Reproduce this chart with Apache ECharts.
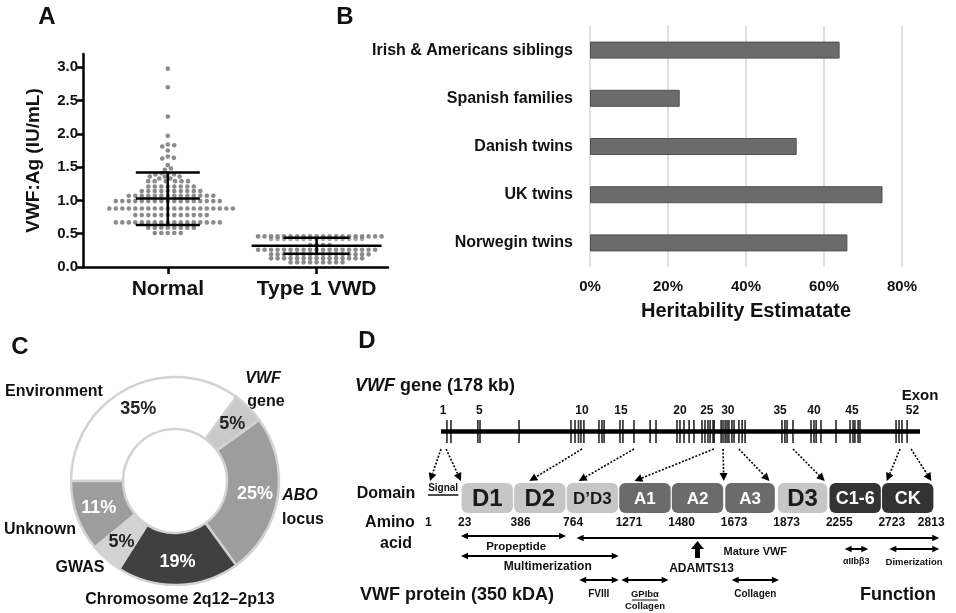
<!DOCTYPE html>
<html><head><meta charset="utf-8">
<script src="https://cdn.jsdelivr.net/npm/echarts@6/dist/echarts.min.js"></script>
<style>html,body{margin:0;padding:0;background:#fff}#c{width:956px;height:613px}</style>
</head><body><div id="c"></div>
<script>
// ---------------- Panel A data ----------------
const aCats = ['Normal', 'Type 1 VWD'];
const aTicks = [0, 0.5, 1, 1.5, 2, 2.5, 3];
const normalVals = [
  2.98, 2.70, 2.26, 1.97, 1.84, 1.83, 1.81, 1.75, 1.66, 1.64, 1.63, 1.53, 1.48, 1.46,
  1.41, 1.41, 1.39, 1.39, 1.36, 1.36, 1.36, 1.33, 1.33,
  1.29, 1.29, 1.29, 1.29, 1.29, 1.29,
  1.21, 1.21, 1.21, 1.21, 1.21, 1.21, 1.21, 1.21,
  1.14, 1.14, 1.14, 1.14, 1.14, 1.14, 1.14, 1.14, 1.14, 1.14,
  1.07, 1.07, 1.07, 1.07, 1.07, 1.07, 1.07, 1.07, 1.07, 1.07, 1.07, 1.07, 1.07, 1.07,
  0.99, 0.99, 0.99, 0.99, 0.99, 0.99, 0.99, 0.99, 0.99, 0.99, 0.99, 0.99, 0.99, 0.99, 0.99, 0.99, 0.99,
  0.88, 0.88, 0.88, 0.88, 0.88, 0.88, 0.88, 0.88, 0.88, 0.88, 0.88, 0.88, 0.88, 0.88, 0.88, 0.88, 0.88, 0.88, 0.88, 0.88,
  0.78, 0.78, 0.78, 0.78, 0.78, 0.78, 0.78, 0.78, 0.78, 0.78, 0.78, 0.78,
  0.67, 0.67, 0.67, 0.67, 0.67, 0.67, 0.67, 0.67, 0.67, 0.67, 0.67, 0.67, 0.67, 0.67, 0.67, 0.67, 0.67,
  0.59, 0.59, 0.59, 0.59, 0.59, 0.59, 0.59, 0.59,
  0.51, 0.51, 0.51, 0.51, 0.51
];
const type1Vals = [
  0.46, 0.46, 0.46, 0.46, 0.46, 0.46, 0.46, 0.46, 0.46, 0.46, 0.46, 0.46, 0.46, 0.46, 0.46, 0.46, 0.46, 0.46, 0.46, 0.46,
  0.33, 0.33, 0.33, 0.33,
  0.26, 0.26, 0.26, 0.26, 0.26, 0.26, 0.26, 0.26, 0.26, 0.26, 0.26, 0.26, 0.26, 0.26, 0.26, 0.26, 0.26, 0.26, 0.26,
  0.19, 0.19, 0.19, 0.19, 0.19, 0.19, 0.19, 0.19, 0.19, 0.19, 0.19, 0.19, 0.19, 0.19, 0.19, 0.19,
  0.13, 0.13, 0.13, 0.13, 0.13, 0.13, 0.13, 0.13, 0.13, 0.13, 0.13, 0.13, 0.13, 0.13, 0.13,
  0.07, 0.07, 0.07, 0.07, 0.07, 0.07, 0.07, 0.07, 0.07
];
const type1OverlapVals = [0.42, 0.42, 0.42, 0.42, 0.42, 0.42, 0.42, 0.42, 0.42, 0.42, 0.42, 0.42, 0.42, 0.42, 0.42];
const aMean = [1.03, 0.32];
const aSdLow = [0.63, 0.20];
const aSdHigh = [1.42, 0.44];

// ---------------- Panel B data ----------------
const bCats = ['Irish & Americans siblings', 'Spanish families', 'Danish twins', 'UK twins', 'Norwegin twins'];
const bVals = [0.64, 0.23, 0.53, 0.75, 0.66];

// ---------------- Panel C data ----------------
const cNames = ['Environment', 'VWF gene', 'ABO locus', 'Chromosome 2q12–2p13', 'GWAS', 'Unknown'];
const cVals = [35, 5, 25, 19, 5, 11];

// ---------------- Panel D data ----------------
const geneKb = 178;
const exonKb = [2.2, 3.7, 13.7, 14.5, 29.0, 48.3, 49.8, 51.1, 52.0, 53.1, 58.7, 59.8, 60.6, 66.5, 67.6, 71.7,
  77.7, 79.9, 87.7, 88.8, 90.3, 92.2, 94.0, 97.0, 98.1, 99.2, 100.0, 101.1, 101.5, 104.1, 104.8, 105.6,
  106.3, 107.0, 108.1, 108.9, 110.7, 111.9, 113.0, 126.7, 127.8, 128.6, 130.8, 137.5, 138.6, 139.4, 141.2,
  146.8, 152.0, 153.1, 153.8, 155.0, 155.7, 169.1, 170.2, 171.3, 173.2];
const exonLabels = ['1', '5', '10', '15', '20', '25', '30', '35', '40', '45', '52'];
const exonLabelKb = [0.8, 14.2, 52.4, 66.9, 88.8, 98.8, 106.6, 126.0, 138.6, 152.7, 175.2];
const domains = ['D1', 'D2', 'D\u2019D3', 'A1', 'A2', 'A3', 'D3', 'C1-6', 'CK'];
const aaLabels = ['1', '23', '386', '764', '1271', '1480', '1673', '1873', '2255', '2723', '2813'];
const aaPos = [-0.63, 0, 1, 2, 3, 4, 5, 6, 7, 8, 8.75];
const spanNames = ['Propeptide', 'Mature VWF', 'Multimerization', 'FVIII', 'GPIb\u03b1', 'Collagen', '\u03b1IIb\u03b23', 'Dimerization'];
const spanStart = [0, 2.2, 0, 2.25, 3.05, 5.15, 7.3, 8.15];
const spanEnd = [2, 9.1, 3, 3.0, 3.95, 6.05, 7.75, 9.1];
const cleavagePos = [4.5];
const arrowFromKb = [0.0, 1.9, 52.4, 71.7, 101.4, 104.8, 110.7, 130.8, 170.6, 174.7];
const arrowToPos = [-0.59, 0, 1.3, 2.24, 3.3, 5, 5.87, 6.92, 8.1, 8.95];

// ---------------- styles / layout ----------------
const F = '"Liberation Sans", Arial, Helvetica, sans-serif';
const gridA = {left: 83, top: 54, width: 305, height: 213};
const aXMin = 0.43, aXMax = 2.48, aYMax = 3.2;
const errMeanHalf = [32, 65], errSdHalf = [32, 33];
const cColors = ['#ffffff', '#c9c9c9', '#9d9d9d', '#404040', '#d3d3d3', '#9d9d9d'];
const cLabelColors = ['#222', '#222', '#fff', '#fff', '#222', '#fff'];
const domColors = ['#c6c6c6', '#c6c6c6', '#c6c6c6', '#6b6b6b', '#6b6b6b', '#6b6b6b', '#c6c6c6', '#333333', '#333333'];
const domText = ['#1a1a1a', '#1a1a1a', '#1a1a1a', '#fff', '#fff', '#fff', '#1a1a1a', '#fff', '#fff'];
const domFont = [24, 24, 17, 17, 17, 17, 24, 18, 18];
const spanRowY = [536, 538, 556, 580, 580, 580, 549, 549];
const spanLabelY = [547, 552, 567, 594, 594, 594, 562, 562];
const spanLabelPos = [1.05, 5.6, 1.65, 2.62, 3.5, 5.6, 7.52, 8.62];
const spanFont = [11.5, 11, 12, 10, 9.5, 10, 9, 9.5];

function swarm(vals, cx, pxX, pxY) {
  const dx0 = 6.5, dy0 = 3.8, placed = [], out = [];
  vals.forEach(v => {
    const y = v * pxY;
    const near = placed.filter(p => Math.abs(p.y - y) < dy0);
    const cand = [0];
    near.forEach(p => {
      const t = 1 - Math.pow((p.y - y) / dy0, 2);
      const d = dx0 * Math.sqrt(Math.max(t, 0));
      cand.push(p.x + d, p.x - d);
    });
    cand.sort((a, b) => Math.abs(a) - Math.abs(b));
    let xx = 0;
    for (const c of cand) {
      if (near.every(p => Math.pow((c - p.x) / dx0, 2) + Math.pow((y - p.y) / dy0, 2) >= 0.999)) { xx = c; break; }
    }
    placed.push({x: xx, y});
    out.push([cx + xx / pxX, v]);
  });
  return out;
}
const pxX = gridA.width / (aXMax - aXMin), pxY = gridA.height / aYMax;

const chart = echarts.init(document.getElementById('c'), null, {renderer: 'canvas'});

function arrowHead(x2, y2, ang, L, W) {
  const bx = x2 - L * Math.cos(ang), by = y2 - L * Math.sin(ang);
  return {pts: [[x2, y2], [bx - W * Math.sin(ang), by + W * Math.cos(ang)], [bx + W * Math.sin(ang), by - W * Math.cos(ang)]], bx, by};
}

const option = {
  animation: false,
  backgroundColor: '#fff',
  grid: [
    {left: gridA.left, top: gridA.top, width: gridA.width, height: gridA.height},
    {left: 590, top: 26, width: 312, height: 241},
    {left: 441, top: 420, width: 479, height: 23},
    {left: 461, top: 483, width: 473, height: 30}
  ],
  xAxis: [
    {type: 'value', gridIndex: 0, min: aXMin, max: aXMax,
      axisLine: {show: true, lineStyle: {color: '#000', width: 2.5}},
      axisTick: {show: true, customValues: [1, 2], length: 7, lineStyle: {color: '#000', width: 2.5}},
      axisLabel: {customValues: [1, 2], formatter: v => aCats[Math.round(v) - 1] || '', margin: 12,
        fontFamily: F, fontWeight: 'bold', fontSize: 21, color: '#111'},
      splitLine: {show: false}},
    {type: 'value', gridIndex: 1, min: 0, max: 0.8, interval: 0.2,
      axisLine: {show: false}, axisTick: {show: false},
      axisLabel: {formatter: v => Math.round(v * 100) + '%', margin: 12, fontFamily: F, fontWeight: 'bold', fontSize: 15, color: '#111'},
      splitLine: {show: true, lineStyle: {color: '#d4d4d4', width: 1.5}},
      name: 'Heritability Estimatate', nameLocation: 'middle', nameGap: 34,
      nameTextStyle: {fontFamily: F, fontWeight: 'bold', fontSize: 20, color: '#111'}},
    {type: 'value', gridIndex: 2, min: 0, max: geneKb, show: false},
    {type: 'value', gridIndex: 3, min: 0, max: 9, show: false}
  ],
  yAxis: [
    {type: 'value', gridIndex: 0, min: 0, max: aYMax, interval: 0.5,
      axisLine: {show: true, lineStyle: {color: '#000', width: 2.5}},
      axisTick: {show: true, customValues: aTicks, length: 6, lineStyle: {color: '#000', width: 2.5}},
      axisLabel: {customValues: aTicks, formatter: v => aTicks.indexOf(v) >= 0 ? v.toFixed(1) : '', margin: 5,
        fontFamily: F, fontWeight: 'bold', fontSize: 15, color: '#111'},
      splitLine: {show: false},
      name: 'VWF:Ag (IU/mL)', nameLocation: 'middle', nameGap: 40,
      nameTextStyle: {fontFamily: F, fontWeight: 'bold', fontSize: 19, color: '#111'}},
    {type: 'category', gridIndex: 1, data: bCats, inverse: true,
      axisLine: {show: false}, axisTick: {show: false},
      axisLabel: {margin: 17, fontFamily: F, fontWeight: 'bold', fontSize: 16, color: '#111'}},
    {type: 'value', gridIndex: 2, min: 0, max: 1, show: false},
    {type: 'value', gridIndex: 3, min: 0, max: 1, show: false}
  ],
  series: [
    {type: 'scatter', xAxisIndex: 0, yAxisIndex: 0, silent: true, symbolSize: 4.6,
      itemStyle: {color: '#6e6e6e'}, data: swarm(normalVals, 1, pxX, pxY), z: 2},
    {type: 'scatter', xAxisIndex: 0, yAxisIndex: 0, silent: true, symbolSize: 4.6,
      itemStyle: {color: '#939393'}, data: swarm(type1OverlapVals, 2, pxX, pxY), z: 2},
    {type: 'scatter', xAxisIndex: 0, yAxisIndex: 0, silent: true, symbolSize: 4.6,
      itemStyle: {color: '#6e6e6e'}, data: swarm(type1Vals, 2, pxX, pxY), z: 2},
    {type: 'custom', xAxisIndex: 0, yAxisIndex: 0, silent: true, z: 5,
      data: aMean.map((m, i) => [i + 1, m, aSdLow[i], aSdHigh[i]]),
      renderItem: (params, api) => {
        const i = params.dataIndex;
        const pm = api.coord([api.value(0), api.value(1)]);
        const pl = api.coord([api.value(0), api.value(2)]);
        const ph = api.coord([api.value(0), api.value(3)]);
        const st = {stroke: '#000', lineWidth: 2.5};
        const hm = errMeanHalf[i], hs = errSdHalf[i];
        return {type: 'group', children: [
          {type: 'line', shape: {x1: pm[0], y1: ph[1], x2: pm[0], y2: pl[1]}, style: st},
          {type: 'line', shape: {x1: pm[0] - hm, y1: pm[1], x2: pm[0] + hm, y2: pm[1]}, style: st},
          {type: 'line', shape: {x1: pm[0] - hs, y1: ph[1], x2: pm[0] + hs, y2: ph[1]}, style: st},
          {type: 'line', shape: {x1: pm[0] - hs, y1: pl[1], x2: pm[0] + hs, y2: pl[1]}, style: st}
        ]};
      }},
    {type: 'bar', xAxisIndex: 1, yAxisIndex: 1, silent: true, barWidth: 17, data: bVals,
      itemStyle: {color: '#6b6b6b', borderColor: '#505050', borderWidth: 1}},
    {type: 'pie', center: [175, 481], radius: [52, 104], startAngle: 180, clockwise: true,
      silent: true, avoidLabelOverlap: false, labelLine: {show: false},
      itemStyle: {borderColor: '#d2d2d2', borderWidth: 2.5},
      label: {show: true, position: 'inside', formatter: '{c}%', fontFamily: F, fontWeight: 'bold', fontSize: 18},
      data: cNames.map((n, i) => ({name: n, value: cVals[i], itemStyle: {color: cColors[i]}, label: {color: cLabelColors[i]}}))},
    {type: 'line', xAxisIndex: 2, yAxisIndex: 2, silent: true, symbol: 'none',
      lineStyle: {color: '#000', width: 4.5}, data: [[0, 0.5], [geneKb, 0.5]]},
    {type: 'scatter', xAxisIndex: 2, yAxisIndex: 2, silent: true, symbol: 'rect', symbolSize: [1.7, 23],
      itemStyle: {color: '#000'}, data: exonKb.map(k => [k, 0.5])},
    {type: 'custom', xAxisIndex: 2, yAxisIndex: 2, silent: true,
      data: exonLabelKb.map(k => [k, 0.5]),
      renderItem: (params, api) => {
        const p = api.coord([api.value(0), 1]);
        return {type: 'text', style: {text: exonLabels[params.dataIndex], x: p[0], y: p[1] - 9,
          font: 'bold 12px ' + F, fill: '#111', align: 'center', verticalAlign: 'middle'}};
      }},
    {type: 'custom', xAxisIndex: 3, yAxisIndex: 3, silent: true,
      data: domains.map((d, i) => [i, 0]),
      renderItem: (params, api) => {
        const i = params.dataIndex;
        const a = api.coord([api.value(0), 1]), b = api.coord([api.value(0) + 1, 0]);
        const gap = (i === 6 || i === 5) ? 1.5 : 0.6;
        return {type: 'group', children: [
          {type: 'rect', shape: {x: a[0] + gap, y: a[1], width: b[0] - a[0] - 2 * gap, height: b[1] - a[1], r: 6},
            style: {fill: domColors[i]}},
          {type: 'text', style: {text: domains[i], x: (a[0] + b[0]) / 2, y: (a[1] + b[1]) / 2 + 1,
            font: 'bold ' + domFont[i] + 'px ' + F, fill: domText[i], align: 'center', verticalAlign: 'middle'}}
        ]};
      }},
    {type: 'custom', xAxisIndex: 3, yAxisIndex: 3, silent: true,
      data: aaPos.map(p => [p, 0]),
      renderItem: (params, api) => {
        const p = api.coord([api.value(0), 0]);
        return {type: 'text', style: {text: aaLabels[params.dataIndex], x: p[0] - 3, y: p[1] + 10,
          font: 'bold 12px ' + F, fill: '#111', align: 'left', verticalAlign: 'middle'}};
      }},
    {type: 'custom', xAxisIndex: 3, yAxisIndex: 3, silent: true,
      data: spanStart.map((s, i) => [s, spanEnd[i]]),
      renderItem: (params, api) => {
        const i = params.dataIndex;
        const y = spanRowY[i];
        const x1 = api.coord([api.value(0), 0])[0], x2 = api.coord([api.value(1), 0])[0];
        const L = 7, W = 3.2;
        const lx = api.coord([spanLabelPos[i], 0])[0];
        const ch = [
          {type: 'line', shape: {x1: x1 + L - 1, y1: y, x2: x2 - L + 1, y2: y}, style: {stroke: '#000', lineWidth: 2}},
          {type: 'polygon', shape: {points: [[x1, y], [x1 + L, y - W], [x1 + L, y + W]]}, style: {fill: '#000'}},
          {type: 'polygon', shape: {points: [[x2, y], [x2 - L, y - W], [x2 - L, y + W]]}, style: {fill: '#000'}},
          {type: 'text', style: {text: spanNames[i], x: lx, y: spanLabelY[i], font: 'bold ' + spanFont[i] + 'px ' + F,
            fill: '#111', align: 'center', verticalAlign: 'middle'}}
        ];
        if (i === 4) {
          ch.push({type: 'line', shape: {x1: lx - 13, y1: spanLabelY[i] + 6, x2: lx + 13, y2: spanLabelY[i] + 6}, style: {stroke: '#111', lineWidth: 1}});
          ch.push({type: 'text', style: {text: 'Collagen', x: lx, y: spanLabelY[i] + 12, font: 'bold 9.5px ' + F,
            fill: '#111', align: 'center', verticalAlign: 'middle'}});
        }
        return {type: 'group', children: ch};
      }},
    {type: 'custom', xAxisIndex: 3, yAxisIndex: 3, silent: true,
      data: cleavagePos.map(p => [p, 0]),
      renderItem: (params, api) => {
        const x = api.coord([api.value(0), 0])[0];
        return {type: 'group', children: [
          {type: 'polygon', shape: {points: [[x, 541], [x + 6.5, 549], [x + 2.5, 549], [x + 2.5, 558], [x - 2.5, 558], [x - 2.5, 549], [x - 6.5, 549]]},
            style: {fill: '#000'}},
          {type: 'text', style: {text: 'ADAMTS13', x: x + 4, y: 569, font: 'bold 12px ' + F, fill: '#111', align: 'center', verticalAlign: 'middle'}}
        ]};
      }},
    {type: 'custom', xAxisIndex: 3, yAxisIndex: 3, silent: true,
      data: [[-0.63, 0]],
      renderItem: (params, api) => {
        const a = api.coord([-0.63, 1]), b = api.coord([-0.05, 1]);
        return {type: 'group', children: [
          {type: 'text', style: {text: 'Signal', x: (a[0] + b[0]) / 2, y: a[1] + 5, font: 'bold 10px ' + F, fill: '#111', align: 'center', verticalAlign: 'middle'}},
          {type: 'line', shape: {x1: a[0], y1: a[1] + 12, x2: b[0], y2: a[1] + 12}, style: {stroke: '#111', lineWidth: 1.5}}
        ]};
      }}
  ]
};
chart.setOption(option);

function txt(t, x, y, size, opts) {
  opts = opts || {};
  return {type: 'text', silent: true, style: {text: t, x: x, y: y, font: (opts.italic ? 'italic ' : '') + 'bold ' + size + 'px ' + F,
    fill: '#111', align: opts.align || 'center', verticalAlign: 'middle'}};
}
const g = [
  txt('A', 47, 17, 24), txt('B', 345, 17, 24), txt('C', 20, 347, 24), txt('D', 367, 341, 24),
  txt('Environment', 54, 392, 16), txt('VWF', 263, 379, 16, {italic: true}), txt('gene', 266, 402, 16),
  txt('ABO', 300, 496, 16, {italic: true}), txt('locus', 303, 520, 16),
  txt('Unknown', 40, 530, 16), txt('GWAS', 80, 568, 16), txt('Chromosome 2q12\u20132p13', 180, 600, 16),
  {type: 'text', silent: true, style: {text: '{i|VWF} gene (178 kb)', x: 355, y: 386, font: 'bold 18px ' + F, fill: '#111',
    align: 'left', verticalAlign: 'middle', rich: {i: {fontStyle: 'italic', fontWeight: 'bold', fontSize: 18, fontFamily: F, fill: '#111'}}}},
  txt('Exon', 920, 396, 15),
  txt('Domain', 386, 494, 16), txt('Amino', 390, 523, 16), txt('acid', 396, 544, 16),
  txt('VWF protein (350 kDA)', 360, 595, 18, {align: 'left'}), txt('Function', 898, 595, 18)
];
arrowFromKb.forEach((kb, i) => {
  const s = chart.convertToPixel({gridIndex: 2}, [kb, 0]);
  const e = chart.convertToPixel({gridIndex: 3}, [arrowToPos[i], 1]);
  const x1 = s[0], y1 = s[1] + 6, x2 = e[0], y2 = e[1] - 2;
  const ang = Math.atan2(y2 - y1, x2 - x1);
  const h = arrowHead(x2, y2, ang, 8, 4);
  g.push({type: 'line', silent: true, shape: {x1, y1, x2: h.bx, y2: h.by}, style: {stroke: '#000', lineWidth: 1.6, lineDash: [2, 1.6]}});
  g.push({type: 'polygon', silent: true, shape: {points: h.pts}, style: {fill: '#000'}});
});
chart.setOption({graphic: g});
</script>
</body></html>
